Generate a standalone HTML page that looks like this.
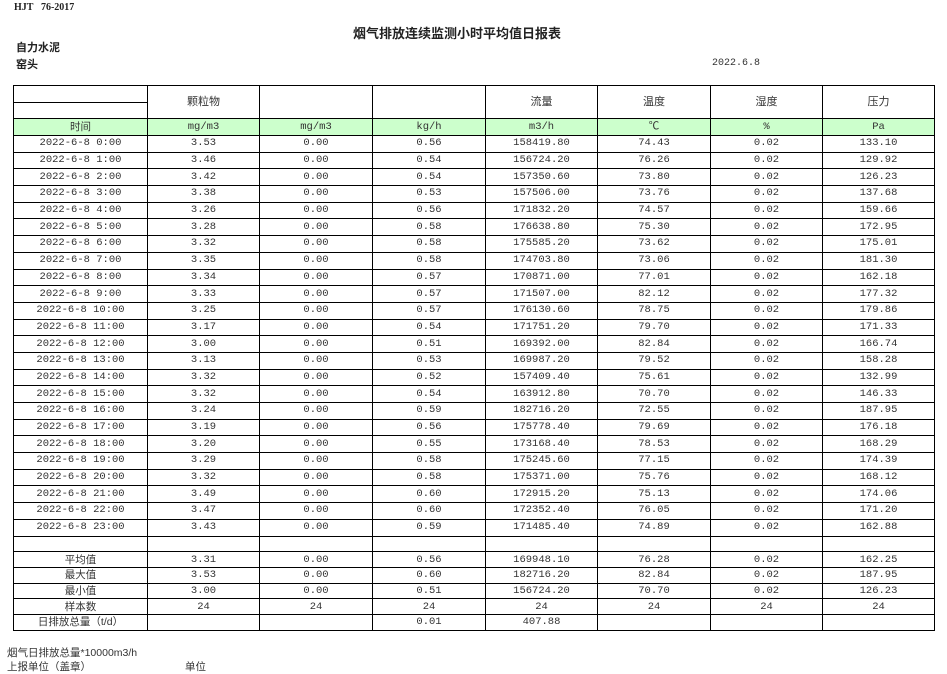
<!DOCTYPE html>
<html><head><meta charset="utf-8"><style>
body{margin:0;width:947px;height:673px;background:#fff;position:relative;overflow:hidden;font-family:"Liberation Sans","Noto Sans CJK SC",sans-serif;color:#222}
.a{position:absolute;white-space:nowrap}
table{position:absolute;left:13px;top:85px;border-collapse:collapse;table-layout:fixed;font-size:10.5px;font-family:"Liberation Mono","Noto Sans CJK SC",monospace;color:#333}
td{border:1px solid #000;text-align:center;padding:0;height:15.7px;line-height:15px;overflow:hidden;white-space:nowrap}
tr.s td{height:14.7px;line-height:14px}
tr.g td{background:#ccffcc;height:16px}
.h td{font-family:"Liberation Sans","Noto Sans CJK SC",sans-serif;font-size:11px}
.c{font-family:"Liberation Sans","Noto Sans CJK SC",sans-serif}
</style></head><body>
<div class="a" style="left:14px;top:2px;font:bold 10px 'Liberation Serif',serif">HJT&nbsp;&nbsp;&nbsp;76-2017</div>
<div class="a" style="left:353px;top:23px;font-weight:bold;font-size:13px">烟气排放连续监测小时平均值日报表</div>
<div class="a" style="left:16px;top:39px;font-weight:bold;font-size:11px">自力水泥</div>
<div class="a" style="left:16px;top:56px;font-weight:bold;font-size:11px">窑头</div>
<div class="a" style="left:712px;top:58px;font-size:10px;font-family:'Liberation Mono',monospace;color:#333">2022.6.8</div>
<table>
<colgroup><col style="width:134px"><col style="width:112px"><col style="width:113px"><col style="width:113px"><col style="width:112px"><col style="width:113px"><col style="width:112px"><col style="width:112px"></colgroup>
<tr class="h"><td style="height:16px;border-bottom:1px solid #000"></td><td rowspan="2">颗粒物</td><td rowspan="2"></td><td rowspan="2"></td><td rowspan="2">流量</td><td rowspan="2">温度</td><td rowspan="2">湿度</td><td rowspan="2">压力</td></tr>
<tr><td style="height:15px"></td></tr>
<tr class="g"><td class="c">时间</td><td>mg/m3</td><td>mg/m3</td><td>kg/h</td><td>m3/h</td><td>℃</td><td>%</td><td>Pa</td></tr>
<tr><td>2022-6-8 0:00</td><td>3.53</td><td>0.00</td><td>0.56</td><td>158419.80</td><td>74.43</td><td>0.02</td><td>133.10</td></tr>
<tr><td>2022-6-8 1:00</td><td>3.46</td><td>0.00</td><td>0.54</td><td>156724.20</td><td>76.26</td><td>0.02</td><td>129.92</td></tr>
<tr><td>2022-6-8 2:00</td><td>3.42</td><td>0.00</td><td>0.54</td><td>157350.60</td><td>73.80</td><td>0.02</td><td>126.23</td></tr>
<tr><td>2022-6-8 3:00</td><td>3.38</td><td>0.00</td><td>0.53</td><td>157506.00</td><td>73.76</td><td>0.02</td><td>137.68</td></tr>
<tr><td>2022-6-8 4:00</td><td>3.26</td><td>0.00</td><td>0.56</td><td>171832.20</td><td>74.57</td><td>0.02</td><td>159.66</td></tr>
<tr><td>2022-6-8 5:00</td><td>3.28</td><td>0.00</td><td>0.58</td><td>176638.80</td><td>75.30</td><td>0.02</td><td>172.95</td></tr>
<tr><td>2022-6-8 6:00</td><td>3.32</td><td>0.00</td><td>0.58</td><td>175585.20</td><td>73.62</td><td>0.02</td><td>175.01</td></tr>
<tr><td>2022-6-8 7:00</td><td>3.35</td><td>0.00</td><td>0.58</td><td>174703.80</td><td>73.06</td><td>0.02</td><td>181.30</td></tr>
<tr><td>2022-6-8 8:00</td><td>3.34</td><td>0.00</td><td>0.57</td><td>170871.00</td><td>77.01</td><td>0.02</td><td>162.18</td></tr>
<tr><td>2022-6-8 9:00</td><td>3.33</td><td>0.00</td><td>0.57</td><td>171507.00</td><td>82.12</td><td>0.02</td><td>177.32</td></tr>
<tr><td>2022-6-8 10:00</td><td>3.25</td><td>0.00</td><td>0.57</td><td>176130.60</td><td>78.75</td><td>0.02</td><td>179.86</td></tr>
<tr><td>2022-6-8 11:00</td><td>3.17</td><td>0.00</td><td>0.54</td><td>171751.20</td><td>79.70</td><td>0.02</td><td>171.33</td></tr>
<tr><td>2022-6-8 12:00</td><td>3.00</td><td>0.00</td><td>0.51</td><td>169392.00</td><td>82.84</td><td>0.02</td><td>166.74</td></tr>
<tr><td>2022-6-8 13:00</td><td>3.13</td><td>0.00</td><td>0.53</td><td>169987.20</td><td>79.52</td><td>0.02</td><td>158.28</td></tr>
<tr><td>2022-6-8 14:00</td><td>3.32</td><td>0.00</td><td>0.52</td><td>157409.40</td><td>75.61</td><td>0.02</td><td>132.99</td></tr>
<tr><td>2022-6-8 15:00</td><td>3.32</td><td>0.00</td><td>0.54</td><td>163912.80</td><td>70.70</td><td>0.02</td><td>146.33</td></tr>
<tr><td>2022-6-8 16:00</td><td>3.24</td><td>0.00</td><td>0.59</td><td>182716.20</td><td>72.55</td><td>0.02</td><td>187.95</td></tr>
<tr><td>2022-6-8 17:00</td><td>3.19</td><td>0.00</td><td>0.56</td><td>175778.40</td><td>79.69</td><td>0.02</td><td>176.18</td></tr>
<tr><td>2022-6-8 18:00</td><td>3.20</td><td>0.00</td><td>0.55</td><td>173168.40</td><td>78.53</td><td>0.02</td><td>168.29</td></tr>
<tr><td>2022-6-8 19:00</td><td>3.29</td><td>0.00</td><td>0.58</td><td>175245.60</td><td>77.15</td><td>0.02</td><td>174.39</td></tr>
<tr><td>2022-6-8 20:00</td><td>3.32</td><td>0.00</td><td>0.58</td><td>175371.00</td><td>75.76</td><td>0.02</td><td>168.12</td></tr>
<tr><td>2022-6-8 21:00</td><td>3.49</td><td>0.00</td><td>0.60</td><td>172915.20</td><td>75.13</td><td>0.02</td><td>174.06</td></tr>
<tr><td>2022-6-8 22:00</td><td>3.47</td><td>0.00</td><td>0.60</td><td>172352.40</td><td>76.05</td><td>0.02</td><td>171.20</td></tr>
<tr><td>2022-6-8 23:00</td><td>3.43</td><td>0.00</td><td>0.59</td><td>171485.40</td><td>74.89</td><td>0.02</td><td>162.88</td></tr>
<tr class="s"><td></td><td></td><td></td><td></td><td></td><td></td><td></td><td></td></tr>
<tr class="s"><td class="c">平均值</td><td>3.31</td><td>0.00</td><td>0.56</td><td>169948.10</td><td>76.28</td><td>0.02</td><td>162.25</td></tr>
<tr class="s"><td class="c">最大值</td><td>3.53</td><td>0.00</td><td>0.60</td><td>182716.20</td><td>82.84</td><td>0.02</td><td>187.95</td></tr>
<tr class="s"><td class="c">最小值</td><td>3.00</td><td>0.00</td><td>0.51</td><td>156724.20</td><td>70.70</td><td>0.02</td><td>126.23</td></tr>
<tr class="s"><td class="c">样本数</td><td>24</td><td>24</td><td>24</td><td>24</td><td>24</td><td>24</td><td>24</td></tr>
<tr class="s"><td class="c">日排放总量（t/d）</td><td></td><td></td><td>0.01</td><td>407.88</td><td></td><td></td><td></td></tr>
</table>
<div class="a" style="left:7px;top:645px;font-size:10.5px;color:#333">烟气日排放总量*10000m3/h</div>
<div class="a" style="left:7px;top:659px;font-size:10.5px;color:#333">上报单位（盖章）</div>
<div class="a" style="left:185px;top:659px;font-size:10.5px;color:#333">单位</div>
</body></html>
